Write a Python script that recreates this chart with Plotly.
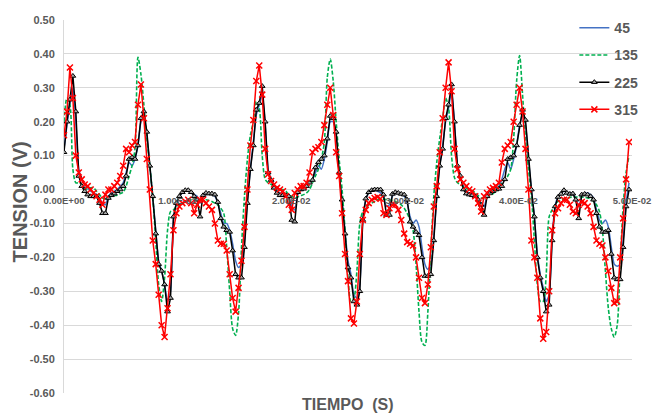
import plotly.graph_objects as go

SAMPLE_RATE = 3840  # samples per second (64 per 60 Hz cycle)

series_45 = [
    0.12, 0.19, 0.25, 0.30, 0.20, 0.06, 0.03, 0.015, 0.005, -0.005,
    -0.01, -0.015, -0.025, -0.04, -0.045, -0.02, -0.01, -0.005, 0.0, 0.01,
    0.02, 0.05, 0.08, 0.07, 0.09, 0.13, 0.20, 0.22, 0.16, 0.07,
    -0.02, -0.12, -0.21, -0.24, -0.28, -0.33, -0.30, -0.09, -0.04, -0.02,
    -0.01, -0.005, -0.005, -0.01, -0.015, -0.02, -0.04, -0.02, -0.015, -0.01,
    -0.015, -0.02, -0.04, -0.07, -0.10, -0.10, -0.12, -0.16, -0.21, -0.23,
    -0.22, -0.15, -0.03, 0.06,
    0.14, 0.22, 0.25, 0.28, 0.19, 0.06, 0.03, 0.01, -0.005, -0.01,
    -0.012, -0.015, -0.02, -0.05, -0.06, -0.015, 0.0, 0.005, 0.01, 0.02,
    0.03, 0.05, 0.07, 0.06, 0.09, 0.14, 0.20, 0.20, 0.16, 0.05,
    -0.03, -0.12, -0.21, -0.25, -0.31, -0.32, -0.28, -0.09, -0.03, -0.01,
    -0.005, 0.0, -0.005, -0.01, -0.02, -0.05, -0.045, -0.02, -0.01, -0.012,
    -0.015, -0.02, -0.04, -0.08, -0.10, -0.09, -0.11, -0.17, -0.22, -0.235,
    -0.22, -0.14, -0.02, 0.07,
    0.13, 0.20, 0.24, 0.29, 0.20, 0.07, 0.04, 0.01, -0.005, -0.01,
    -0.012, -0.015, -0.025, -0.04, -0.05, -0.02, -0.005, 0.0, 0.005, 0.01,
    0.03, 0.06, 0.08, 0.06, 0.09, 0.13, 0.19, 0.22, 0.19, 0.09,
    0.0, -0.08, -0.19, -0.25, -0.29, -0.33, -0.31, -0.14, -0.05, -0.02,
    -0.01, -0.005, -0.008, -0.01, -0.012, -0.025, -0.05, -0.02, -0.012, -0.01,
    -0.015, -0.025, -0.06, -0.09, -0.10, -0.09, -0.11, -0.17, -0.22, -0.226,
    -0.22, -0.15, -0.04, 0.02,
]

series_135 = [
    0.20, 0.27, 0.25, 0.06, 0.02, 0.02, 0.015, 0.005, 0.0, 0.005,
    0.005, -0.005, -0.015, -0.025, -0.027, -0.025, -0.02, -0.018, -0.017, -0.012,
    -0.008, 0.01, 0.04, 0.07, 0.12, 0.39, 0.34, 0.25, 0.15, 0.07,
    -0.02, -0.15, -0.28, -0.33, -0.26, -0.12, -0.065, -0.06, -0.05, -0.045,
    -0.04, -0.035, -0.033, -0.03, -0.03, -0.028, -0.028, -0.03, -0.03, -0.032,
    -0.035, -0.04, -0.045, -0.055, -0.07, -0.17, -0.30, -0.41, -0.43, -0.365,
    -0.17, -0.02, 0.09, 0.16,
    0.20, 0.26, 0.24, 0.10, 0.03, 0.02, 0.015, 0.008, 0.003, 0.0,
    0.0, -0.005, -0.015, -0.02, -0.025, -0.022, -0.018, -0.015, -0.01, 0.0,
    0.02, 0.04, 0.06, 0.09, 0.14, 0.33, 0.385, 0.32, 0.20, 0.09,
    0.0, -0.12, -0.26, -0.33, -0.32, -0.24, -0.10, -0.065, -0.055, -0.045,
    -0.04, -0.035, -0.03, -0.028, -0.028, -0.03, -0.03, -0.032, -0.035, -0.04,
    -0.045, -0.055, -0.07, -0.09, -0.12, -0.22, -0.36, -0.45, -0.46, -0.36,
    -0.18, -0.02, 0.08, 0.15,
    0.21, 0.27, 0.24, 0.10, 0.035, 0.02, 0.015, 0.008, 0.003, 0.0,
    -0.003, -0.01, -0.018, -0.025, -0.027, -0.024, -0.018, -0.012, -0.005, 0.005,
    0.02, 0.03, 0.04, 0.06, 0.15, 0.32, 0.395, 0.28, 0.15, 0.06,
    -0.02, -0.15, -0.28, -0.33, -0.33, -0.25, -0.08, -0.06, -0.045, -0.035,
    -0.03, -0.027, -0.025, -0.023, -0.022, -0.022, -0.022, -0.022, -0.023, -0.025,
    -0.027, -0.035, -0.045, -0.065, -0.12, -0.24, -0.35, -0.41, -0.435, -0.40,
    -0.22, -0.05, 0.05, 0.10,
]

series_225 = [
    0.11, 0.20, 0.265, 0.335, 0.23, 0.04, 0.01, -0.005, -0.015, -0.02,
    -0.02, -0.02, -0.04, -0.07, -0.07, -0.025, -0.017, -0.012, -0.005, 0.0,
    0.01, 0.04, 0.09, 0.095, 0.09, 0.13, 0.21, 0.23, 0.17, 0.07,
    -0.02, -0.13, -0.22, -0.24, -0.28, -0.36, -0.32, -0.08, -0.04, -0.02,
    -0.008, -0.002, -0.002, -0.008, -0.02, -0.03, -0.08, -0.017, -0.01, -0.012,
    -0.012, -0.015, -0.037, -0.085, -0.11, -0.12, -0.125, -0.18, -0.25, -0.26,
    -0.26, -0.17, -0.04, 0.06,
    0.13, 0.235, 0.255, 0.305, 0.20, 0.05, 0.028, 0.005, -0.01, -0.017,
    -0.017, -0.017, -0.02, -0.09, -0.095, -0.008, 0.0, 0.002, 0.01, 0.02,
    0.028, 0.065, 0.08, 0.09, 0.10, 0.15, 0.217, 0.21, 0.17, 0.05,
    -0.03, -0.13, -0.23, -0.26, -0.33, -0.34, -0.30, -0.09, -0.027, -0.008,
    -0.002, 0.0, 0.0, 0.0, -0.015, -0.075, -0.075, -0.013, -0.008, -0.01,
    -0.013, -0.015, -0.03, -0.095, -0.11, -0.125, -0.135, -0.2, -0.255, -0.255,
    -0.25, -0.15, -0.02, 0.07,
    0.12, 0.21, 0.25, 0.31, 0.20, 0.07, 0.04, 0.0, -0.012, -0.015,
    -0.017, -0.02, -0.03, -0.045, -0.075, -0.02, -0.01, -0.005, 0.0, 0.002,
    0.01, 0.03, 0.09, 0.095, 0.10, 0.13, 0.19, 0.235, 0.205, 0.09,
    0.0, -0.08, -0.2, -0.26, -0.3, -0.36, -0.34, -0.15, -0.05, -0.022,
    -0.013, -0.002, -0.01, -0.013, -0.012, -0.03, -0.085, -0.015, -0.013, -0.015,
    -0.02, -0.03, -0.07, -0.11, -0.125, -0.125, -0.12, -0.19, -0.26, -0.265,
    -0.265, -0.17, -0.05, 0.0,
]

series_315 = [
    0.16, 0.23, 0.36, 0.27, 0.10, 0.05, 0.03, 0.015, 0.01, 0.0,
    -0.01, -0.02, -0.03, -0.045, -0.015, 0.0, 0.0, 0.01, 0.02, 0.04,
    0.07, 0.12, 0.11, 0.13, 0.14, 0.25, 0.31, 0.21, 0.09, 0.0,
    -0.15, -0.22, -0.31, -0.40, -0.435, -0.35, -0.25, -0.12, -0.07, -0.05,
    -0.04, -0.035, -0.03, -0.04, -0.07, -0.045, -0.03, -0.03, -0.04, -0.05,
    -0.06, -0.10, -0.15, -0.16, -0.16, -0.18, -0.25, -0.32, -0.36, -0.29,
    -0.21, -0.11, 0.0, 0.13,
    0.205, 0.32, 0.366, 0.28, 0.12, 0.045, 0.025, 0.015, 0.005, 0.0,
    -0.005, -0.02, -0.045, -0.06, -0.01, 0.0, 0.01, 0.01, 0.02, 0.05,
    0.11, 0.12, 0.125, 0.14, 0.19, 0.25, 0.30, 0.22, 0.11, 0.04,
    -0.07, -0.19, -0.27, -0.38, -0.395, -0.33, -0.19, -0.09, -0.06, -0.04,
    -0.03, -0.025, -0.022, -0.027, -0.07, -0.075, -0.055, -0.045, -0.045, -0.06,
    -0.09, -0.13, -0.155, -0.16, -0.165, -0.2, -0.26, -0.32, -0.335, -0.28,
    -0.17, -0.05, 0.01, 0.11,
    0.21, 0.30, 0.375, 0.29, 0.12, 0.06, 0.03, 0.02, 0.01, 0.0,
    -0.005, -0.02, -0.04, -0.065, -0.02, -0.01, 0.0, 0.005, 0.01, 0.02,
    0.08, 0.12, 0.13, 0.14, 0.20, 0.25, 0.30, 0.23, 0.12, 0.0,
    -0.15, -0.20, -0.26, -0.38, -0.44, -0.42, -0.30, -0.12, -0.07, -0.055,
    -0.04, -0.03, -0.03, -0.045, -0.065, -0.07, -0.045, -0.037, -0.04, -0.05,
    -0.07, -0.11, -0.15, -0.16, -0.165, -0.2, -0.24, -0.29, -0.335, -0.33,
    -0.2, -0.085, 0.03, 0.14,
]

time_s = [i / SAMPLE_RATE for i in range(len(series_315))]

y_tick_vals = [0.5, 0.4, 0.3, 0.2, 0.1, 0.0, -0.1, -0.2, -0.3, -0.4, -0.5, -0.6]
y_tick_text = ["0.50", "0.40", "0.30", "0.20", "0.10", "0.00",
               "-0.10", "-0.20", "-0.30", "-0.40", "-0.50", "-0.60"]
x_tick_vals = [0.0, 0.01, 0.02, 0.03, 0.04, 0.05]
x_tick_text = ["0.00E+00", "1.00E-02", "2.00E-02", "3.00E-02", "4.00E-02", "5.00E-02"]

GRAY = "#595959"
FONT = "Liberation Sans, Arial, sans-serif"

fig = go.Figure()
fig.add_trace(go.Scatter(
    x=time_s, y=series_45, name="45", mode="lines", legendgroup="a",
    line=dict(color="#4472C4", width=1.5, shape="spline", smoothing=0.6)))
fig.add_trace(go.Scatter(
    x=time_s, y=series_135, name="135", mode="lines", legendgroup="b",
    line=dict(color="#00B050", width=1.6, dash="4px,2px", shape="spline", smoothing=0.8)))
fig.add_trace(go.Scatter(
    x=time_s, y=series_225, name="225", mode="lines+markers", legendgroup="c",
    line=dict(color="#000000", width=1.5),
    marker=dict(symbol="triangle-up", size=5, color="#a6a6a6",
                line=dict(color="#000000", width=1))))
fig.add_trace(go.Scatter(
    x=time_s, y=series_315, name="315", mode="lines+markers", legendgroup="d",
    line=dict(color="#FF0000", width=1.5),
    marker=dict(symbol="x-thin-open", size=6, color="#FF0000",
                line=dict(color="#FF0000", width=1.5))))

fig.update_layout(
    width=663, height=417,
    margin=dict(l=64, r=26, t=16, b=24),
    paper_bgcolor="white", plot_bgcolor="white",
    font=dict(family=FONT, color=GRAY),
    showlegend=True,
    legend=dict(x=0.8985, xanchor="left", y=1.021, yanchor="top",
                bgcolor="rgba(0,0,0,0)", tracegroupgap=6,
                font=dict(size=14, color=GRAY, family=FONT, weight="bold")),
    xaxis=dict(range=[0, 0.05], anchor="free", position=0.545,
               showgrid=False, zeroline=False, showline=False,
               tickmode="array", tickvals=x_tick_vals, ticktext=x_tick_text,
               tickfont=dict(size=9.5, color=GRAY, family=FONT, weight="bold"),
               ticks="", ticklabelstandoff=4),
    yaxis=dict(range=[-0.6, 0.5], showgrid=True, gridcolor="#d9d9d9", gridwidth=1,
               zeroline=False, showline=True, linecolor="#d9d9d9", linewidth=1,
               tickmode="array", tickvals=y_tick_vals, ticktext=y_tick_text,
               tickfont=dict(size=11, color=GRAY, family=FONT, weight="bold"),
               ticks="", ticklabelstandoff=6),
)

fig.add_annotation(text="TENSION (V)", xref="paper", yref="paper",
                   x=-0.0768, y=0.512, xanchor="center", yanchor="middle",
                   textangle=-90, showarrow=False,
                   font=dict(size=20, color=GRAY, family=FONT, weight="bold"))
fig.add_annotation(text="TIEMPO\u00a0 (S)", xref="paper", yref="paper",
                   x=0.5, y=-0.032, xanchor="center", yanchor="middle",
                   showarrow=False,
                   font=dict(size=16, color=GRAY, family=FONT, weight="bold"))

fig.write_html("out.html")
